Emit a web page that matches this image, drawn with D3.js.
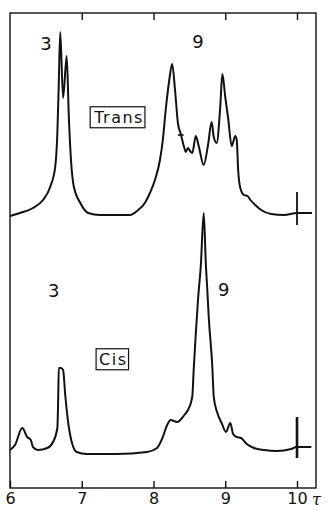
<!DOCTYPE html>
<html>
<head>
<meta charset="utf-8">
<script src="https://cdn.jsdelivr.net/npm/d3@7"></script>
<style>
  body { margin: 0; background: #fff; }
  text { font-family: "DejaVu Sans", sans-serif; fill: #111; }
</style>
</head>
<body>
<div id="chart"></div>
<script>
// tick labels on the tau axis
var tauTicks = [6, 7, 8, 9, 10];

// trans spectrum: chemical shift (tau) and signal height
var transTau = [6.00, 6.14, 6.32, 6.46, 6.56, 6.63, 6.66, 6.68, 6.70, 6.74, 6.79, 6.82, 6.85, 6.89, 6.98, 7.09, 7.25, 7.67, 7.77, 7.88, 7.95, 8.02, 8.09, 8.13, 8.17, 8.22, 8.26, 8.30, 8.34, 8.38, 8.43, 8.45, 8.48, 8.51, 8.54, 8.59, 8.63, 8.70, 8.76, 8.81, 8.84, 8.88, 8.93, 8.96, 9.00, 9.04, 9.09, 9.14, 9.16, 9.18, 9.21, 9.26, 9.31, 9.35, 9.42, 9.50, 9.64, 9.82, 10.00, 10.21];
var transInt = [-1, 2, 7, 15, 28, 48, 82, 132, 183, 117, 159, 98, 55, 28, 12, 2, 0, 0, 4, 12, 22, 35, 55, 75, 105, 135, 151, 125, 92, 81, 67, 63, 67, 64, 62, 79, 69, 50, 70, 93, 78, 72, 108, 141, 118, 97, 69, 79, 75, 45, 27, 20, 19, 15, 10, 5, 1, 0, 2, 2];

// cis spectrum
var cisTau = [6.00, 6.07, 6.17, 6.24, 6.29, 6.32, 6.39, 6.52, 6.60, 6.66, 6.67, 6.68, 6.71, 6.74, 6.77, 6.81, 6.86, 6.93, 7.07, 7.49, 7.91, 8.05, 8.13, 8.19, 8.24, 8.33, 8.43, 8.48, 8.54, 8.56, 8.59, 8.62, 8.66, 8.70, 8.73, 8.75, 8.77, 8.82, 8.84, 8.89, 8.95, 9.01, 9.07, 9.11, 9.16, 9.22, 9.30, 9.40, 9.54, 9.72, 9.92, 9.99, 10.20];
var cisInt = [4, 9, 26, 17, 14, 7, 4, 6, 12, 26, 49, 86, 86, 84, 59, 32, 12, 2, 0, 0, 2, 6, 17, 29, 34, 32, 39, 44, 57, 84, 121, 154, 189, 241, 189, 164, 137, 87, 57, 41, 31, 22, 31, 20, 17, 16, 10, 6, 4, 3, 5, 7, 7];

// peak labels and sample labels
var peakLabels = [
  {panel: "trans", tau: 6.50, h: 165, text: "3"},
  {panel: "trans", tau: 8.62, h: 167, text: "9"},
  {panel: "cis", tau: 6.61, h: 157, text: "3"},
  {panel: "cis", tau: 8.98, h: 158, text: "9"}
];
var sampleLabels = [
  {panel: "trans", tau: 7.52, h: 98, text: "Trans"},
  {panel: "cis", tau: 7.44, h: 95, text: "Cis"}
];

var W = 328, H = 510;
var frame = {left: 10, right: 316, top: 13, bottom: 488};

var svg = d3.select("#chart").append("svg")
    .attr("width", W)
    .attr("height", H);

var x = d3.scaleLinear()
    .domain([6, 10])
    .range([10, 297]);

// one vertical scale per trace, same gain
var y = {
  trans: d3.scaleLinear().domain([0, 200]).range([215, 15]),
  cis: d3.scaleLinear().domain([0, 200]).range([454, 254])
};

// the box
svg.append("rect")
    .attr("x", frame.left)
    .attr("y", frame.top)
    .attr("width", frame.right - frame.left)
    .attr("height", frame.bottom - frame.top)
    .style("fill", "none")
    .style("stroke", "#111")
    .style("stroke-width", 1.4);

// bottom axis, ticks pointing in
var xAxis = svg.append("g")
    .attr("transform", "translate(0," + frame.bottom + ")")
    .call(d3.axisBottom(x).tickValues(tauTicks).tickSizeInner(-7).tickSizeOuter(0).tickPadding(5).tickFormat(d3.format("d")));
xAxis.select(".domain").remove();
xAxis.selectAll(".tick line").attr("stroke", "#111").attr("stroke-width", 1.4);
xAxis.selectAll(".tick text")
    .style("font-family", "DejaVu Sans, sans-serif")
    .style("font-size", "16px")
    .attr("fill", "#111");

// tau symbol after the last label
svg.append("text")
    .attr("x", 312)
    .attr("y", 505)
    .style("font-family", "DejaVu Serif, serif")
    .style("font-style", "italic")
    .style("font-size", "16px")
    .text("τ");

// top axis, ticks only
var topAxis = svg.append("g")
    .attr("transform", "translate(0," + frame.top + ")")
    .call(d3.axisTop(x).tickValues(tauTicks.slice(1)).tickSizeInner(-7).tickSizeOuter(0).tickFormat(""));
topAxis.select(".domain").remove();
topAxis.selectAll(".tick line").attr("stroke", "#111").attr("stroke-width", 1.4);

// spectra
function drawTrace(panel, taus, ints) {
  var pts = taus.map(function (t, i) { return [t, ints[i]]; });
  var line = d3.line()
      .x(function (d) { return x(d[0]); })
      .y(function (d) { return y[panel](d[1]); })
      .curve(d3.curveMonotoneX);
  svg.append("path")
      .datum(pts)
      .attr("d", line)
      .style("fill", "none")
      .style("stroke", "#111")
      .style("stroke-width", 2)
      .style("stroke-linejoin", "round");
}
drawTrace("trans", transTau, transInt);
drawTrace("cis", cisTau, cisInt);

// TMS reference marks at tau = 10
svg.append("line")
    .attr("x1", x(10)).attr("x2", x(10))
    .attr("y1", y.trans(23)).attr("y2", y.trans(-10))
    .style("stroke", "#111").style("stroke-width", 1.8);
svg.append("line")
    .attr("x1", x(10)).attr("x2", x(10))
    .attr("y1", y.cis(37)).attr("y2", y.cis(-4))
    .style("stroke", "#111").style("stroke-width", 2.6);

// small integration mark on the trans trace
svg.append("line")
    .attr("x1", x(8.34)).attr("x2", x(8.42))
    .attr("y1", y.trans(80)).attr("y2", y.trans(80))
    .style("stroke", "#111").style("stroke-width", 1.6);

// peak numbers
svg.selectAll(".peak")
  .data(peakLabels)
  .enter()
  .append("text")
    .attr("class", "peak")
    .attr("x", function (d) { return x(d.tau); })
    .attr("y", function (d) { return y[d.panel](d.h); })
    .attr("text-anchor", "middle")
    .style("font-size", "18px")
    .text(function (d) { return d.text; });

// boxed sample names
sampleLabels.forEach(function (d) {
  var g = svg.append("g");
  var t = g.append("text")
      .attr("x", x(d.tau))
      .attr("y", y[d.panel](d.h))
      .attr("text-anchor", "middle")
      .attr("dy", "0.36em")
      .style("font-size", "16px")
      .style("letter-spacing", "1.5px")
      .text(d.text);
  var b = t.node().getBBox();
  g.insert("rect", "text")
      .attr("x", b.x - 3)
      .attr("y", b.y - 1)
      .attr("width", b.width + 4)
      .attr("height", b.height + 2)
      .style("fill", "#fff")
      .style("stroke", "#111")
      .style("stroke-width", 1.2);
});
</script>
</body>
</html>
